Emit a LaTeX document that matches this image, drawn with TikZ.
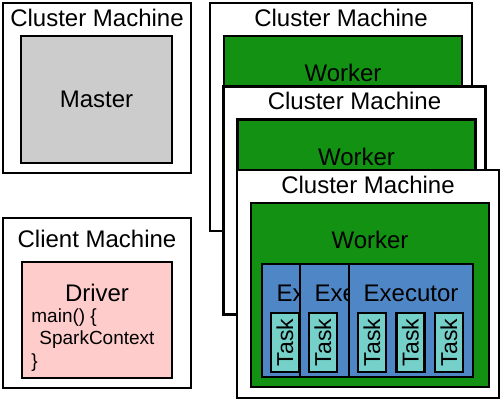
\documentclass[tikz,border=0pt]{standalone}
\usepackage{graphicx}
\usepackage{fontspec}
\setmainfont{Liberation Sans}
\usepackage{tikz}
\usetikzlibrary{positioning}
\definecolor{mastergray}{HTML}{CCCCCC}
\definecolor{driverpink}{HTML}{FFCCCC}
\definecolor{workergreen}{HTML}{129112}
\definecolor{executorblue}{HTML}{4F86C6}
\definecolor{taskcyan}{HTML}{74D0C8}
\tikzstyle{box} = [rectangle, draw, line width=1.3pt, inner sep=0pt, outer sep=0pt, anchor=north west]
\tikzstyle{smallmachine} = [box, fill=white, minimum width=94pt, minimum height=85pt]
\tikzstyle{machine} = [box, fill=white, minimum width=131pt, minimum height=114pt]
\tikzstyle{master} = [box, fill=mastergray, minimum width=75.5pt, minimum height=63.5pt, font=\fontsize{12}{14}\selectfont]
\tikzstyle{driver} = [box, fill=driverpink, minimum width=75pt, minimum height=58pt]
\tikzstyle{worker} = [box, fill=workergreen, minimum width=119pt, minimum height=92pt]
\tikzstyle{executor} = [box, fill=executorblue, minimum width=62pt, minimum height=56.5pt]
\tikzstyle{task} = [box, fill=taskcyan, minimum width=14pt, minimum height=29.5pt, font=\fontsize{11.5}{13}\selectfont]
\tikzstyle{title} = [inner sep=0pt, font=\fontsize{12}{14}\selectfont]
\tikzstyle{code} = [inner sep=0pt, align=left, anchor=west, font=\fontsize{9.5}{11.25}\selectfont]

\begin{document}
\begin{tikzpicture}[x=0.5pt, y=-0.5pt]
        \useasboundingbox (0,0) rectangle (501,404);
        % master side
        \node (mastermachine) [smallmachine] at (3,3) {};
        \node (mastertitle) [title, below=2.6pt of mastermachine.north] {Cluster Machine};
        \node (master) [master] at (21,36) {Master};
        % client side
        \node (client) [smallmachine] at (3,218) {};
        \node (clienttitle) [title, below=5.6pt of client.north] {Client Machine};
        \node (driver) [driver] at (22,262) {};
        \node (drivertitle) [title, below=10.6pt of driver.north] {Driver};
        \node (drivercode) [code] at (31,340) {main() \{\\\hspace{4pt}SparkContext\\\}};
        % stacked cluster machines
        \foreach \i/\x/\y in {1/210/3, 2/223.5/86.5, 3/237/170} {
            \node (machine\i) [machine] at (\x,\y) {};
            \node (machinetitle\i) [title, below=2.6pt of machine\i.north] {Cluster Machine};
            \node (worker\i) [worker] at (\x+14,\y+33) {};
            \node (workertitle\i) [title, below=14pt of worker\i.north] {Worker};
        }
        % executors and tasks
        \foreach \i/\x/\n in {1/262/1, 2/300/1, 3/349/3} {
            \node (executor\i) [executor] at (\x,264) {};
            \node (executortitle\i) [title, below=10.2pt of executor\i.north] {Executor};
            \foreach \j in {1,...,\n}
                \node (task\i\j) [task] at ({\x+9+38.5*(\j-1)},313) {\rotatebox{90}{Task}};
        }
    \end{tikzpicture}
\end{document}
